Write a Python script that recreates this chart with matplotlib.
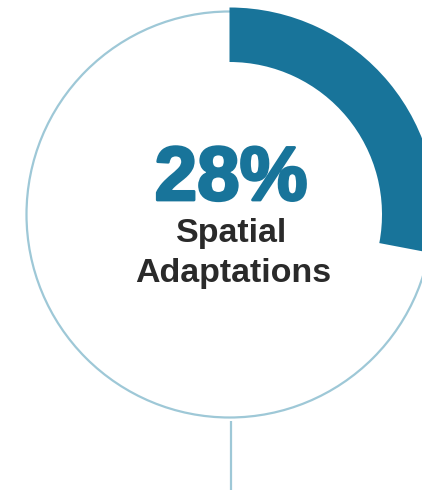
import matplotlib.pyplot as plt
from matplotlib.patches import Circle, Wedge
from matplotlib import patheffects as pe

# share of projects, and the category it belongs to
share = 28
label_lines = ["Spatial", "Adaptations"]

teal = "#18749a"
ring = "#9ec8d7"
ink = "#2a2a2a"

fig = plt.figure(figsize=(4.22, 4.9), dpi=100)
ax = fig.add_axes([0, 0, 1, 1])
ax.set_xlim(0, 422)
ax.set_ylim(0, 490)
ax.set_aspect("equal")
ax.axis("off")

cx, cy = 229.5, 275.5

# thin outline ring
ax.add_patch(Circle((cx, cy), 203, fill=False, edgecolor=ring, linewidth=1.6, zorder=1))

# progress arc, clockwise from 12 o'clock
sweep = 360 * share / 100
ax.add_patch(Wedge((cx, cy), 207, 90 - sweep, 90, width=54.5,
                   facecolor=teal, edgecolor="none", zorder=2))

# stem below the ring
ax.plot([231, 231], [0, 69], color=ring, linewidth=1.6, solid_capstyle="butt")

ax.text(231, 290, f"{share}%", ha="center", va="baseline", color=teal,
        fontsize=55, fontweight="bold", family="Liberation Sans",
        path_effects=[pe.withStroke(linewidth=2, foreground=teal)])
ax.text(232, 248, label_lines[0], ha="center", va="baseline", color=ink,
        fontsize=24.5, fontweight="bold", family="Liberation Sans")
ax.text(233, 208, label_lines[1], ha="center", va="baseline", color=ink,
        fontsize=24.5, fontweight="bold", family="Liberation Sans")

fig.savefig("out.png", dpi=100)
plt.close(fig)
